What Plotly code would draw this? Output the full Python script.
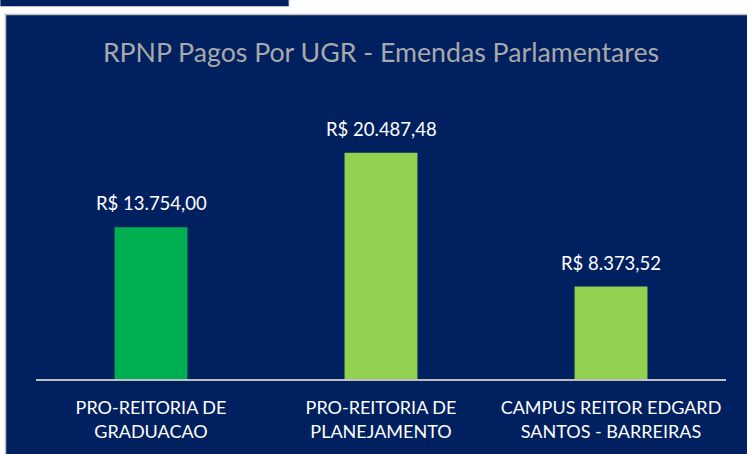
import plotly.graph_objects as go

categories = ["PRO-REITORIA DE<br>GRADUACAO", "PRO-REITORIA DE<br>PLANEJAMENTO", "CAMPUS REITOR EDGARD<br>SANTOS - BARREIRAS"]
values = [13754.00, 20487.48, 8373.52]
labels = ["R$ 13.754,00", "R$ 20.487,48", "R$ 8.373,52"]
colors = ["#00B050", "#92D050", "#92D050"]

W, H = 747, 454
L, R, T, B = 36, 21, 103, 75
pw, ph = W - L - R, H - T - B

def px(x):
    return (x - L) / pw

def py(y):
    return (H - B - y) / ph

NAVY = "#002060"
FONT = "Lato"

fig = go.Figure()
fig.add_trace(go.Bar(
    x=categories, y=values, marker=dict(color=colors, line=dict(width=0)),
    width=0.317, cliponaxis=False,
))

annotations = [
    dict(x=c, y=v, xref="x", yref="y", text=t, showarrow=False, yanchor="bottom",
         xanchor="center", yshift=11, font=dict(color="#FFFFFF", size=18.5, family=FONT))
    for c, v, t in zip(categories, values, labels)
]

shapes = [
    dict(type="rect", xref="paper", yref="paper", x0=px(0), x1=px(289), y0=py(6.5), y1=py(-5),
         fillcolor=NAVY, line=dict(color="#BFBFBF", width=1), layer="below"),
    dict(type="rect", xref="paper", yref="paper", x0=px(5.5), x1=px(752), y0=py(460), y1=py(14.5),
         fillcolor=NAVY, line=dict(color="#BFBFBF", width=1.5), layer="below"),
]

fig.update_layout(
    width=W, height=H,
    margin=dict(l=L, r=R, t=T, b=B, pad=0),
    paper_bgcolor="#FFFFFF", plot_bgcolor="rgba(0,0,0,0)",
    shapes=shapes, annotations=annotations,
    showlegend=False,
    title=dict(text="RPNP Pagos Por UGR - Emendas Parlamentares", xref="container",
               x=381 / W, xanchor="center", y=1 - 53 / H, yanchor="middle",
               font=dict(color="#A9A9A9", size=26.7, family=FONT)),
    xaxis=dict(showgrid=False, showline=True, linecolor="#BFBFBF", linewidth=1.5,
               ticks="", ticklabelstandoff=12,
               tickfont=dict(color="#FFFFFF", size=18, family=FONT), zeroline=False),
    yaxis=dict(range=[0, 25000], showgrid=False, showticklabels=False, zeroline=False,
               showline=False, ticks=""),
)

fig.write_html("out.html")
